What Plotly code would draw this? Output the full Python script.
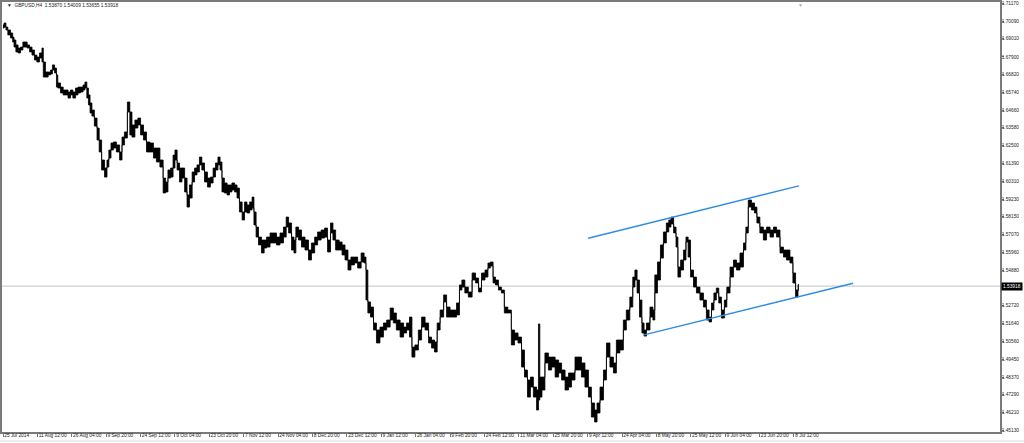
import plotly.graph_objects as go

bars = [0, 4, 7, 11, 17, 19, 22, 26, 30, 35, 39, 43, 47, 52, 56, 61, 65, 71, 74, 76,
        82, 86, 91, 93, 99, 100, 104, 110, 114, 119, 123, 128, 132, 138, 141, 147, 151, 154, 158, 160,
        164, 167, 173, 177, 181, 186, 192, 195, 199, 203, 208, 214, 220, 223, 229, 234, 238, 242, 249, 253,
        259, 264, 270, 277, 283, 288, 296, 300, 305, 309, 315, 318, 322, 326, 331, 335, 341, 344, 350, 354,
        359, 363, 368, 372, 378, 383, 389, 393, 398, 402, 406, 409, 415, 419, 424, 428, 434, 437, 443, 447,
        452, 456, 462, 465, 469, 473, 478, 484, 488, 493, 501, 506, 512, 519, 525, 529, 534, 540, 543, 547,
        553, 558, 566, 571, 577, 583, 588, 596, 601, 607, 612, 616, 622, 629, 633, 640, 644, 651, 657, 663,
        670, 674, 677, 681, 687, 692, 698, 705, 711, 717, 724, 729, 735, 743, 748, 754, 759, 763, 770, 776,
        782, 789, 795, 800, 806, 810, 817, 823, 828, 836, 841, 847, 852, 856, 863, 869, 877, 882, 888, 893,
        901, 904, 910, 914, 919, 925, 930, 936, 943, 949, 955, 962, 968, 973, 979, 984, 990, 996, 997, 1001,
        1005, 1012, 1018, 1024, 1031, 1037, 1042, 1050, 1055, 1061, 1068, 1074, 1079, 1087, 1092, 1098, 1104, 1107, 1115, 1120,
        1126, 1133, 1139, 1144, 1152, 1157, 1163, 1170, 1174, 1178, 1182, 1187, 1191, 1195, 1200, 1208, 1211, 1215, 1221, 1226,
        1232, 1237, 1241, 1245, 1251, 1254, 1258, 1264, 1269, 1273, 1277, 1282, 1288, 1293, 1301, 1306, 1312, 1316, 1321, 1325,
        1330, 1334, 1340, 1345, 1349, 1357, 1362, 1368, 1375, 1381, 1384, 1390, 1396, 1401, 1405, 1412, 1418, 1424, 1431, 1437,
        1442, 1450, 1455, 1461, 1468, 1472, 1478, 1481]

highs = [1.6985, 1.6997, 1.6972, 1.6954, 1.6936, 1.6911, 1.6893, 1.6863, 1.6844, 1.6850, 1.6881, 1.6881, 1.6863, 1.6850, 1.6832, 1.6801, 1.6789, 1.6814, 1.6844, 1.6759,
         1.6698, 1.6698, 1.6710, 1.6741, 1.6722, 1.6680, 1.6631, 1.6606, 1.6588, 1.6588, 1.6576, 1.6588, 1.6576, 1.6600, 1.6606, 1.6606, 1.6619, 1.6637, 1.6600, 1.6558,
         1.6509, 1.6466, 1.6417, 1.6356, 1.6283, 1.6161, 1.6112, 1.6161, 1.6222, 1.6265, 1.6271, 1.6253, 1.6210, 1.6301, 1.6332, 1.6515, 1.6454, 1.6375, 1.6405, 1.6417,
         1.6375, 1.6332, 1.6271, 1.6265, 1.6234, 1.6234, 1.6161, 1.6051, 1.6027, 1.6100, 1.6112, 1.6191, 1.6222, 1.6143, 1.6112, 1.6112, 1.6051, 1.5948, 1.6009, 1.6088,
         1.6112, 1.6131, 1.6179, 1.6143, 1.6088, 1.6051, 1.6057, 1.6112, 1.6143, 1.6179, 1.6149, 1.6051, 1.6021, 1.6009, 1.6009, 1.6021, 1.6009, 1.5990, 1.5905, 1.5844,
         1.5905, 1.5887, 1.5905, 1.5935, 1.5844, 1.5752, 1.5691, 1.5673, 1.5673, 1.5691, 1.5716, 1.5716, 1.5691, 1.5716, 1.5752, 1.5813, 1.5777, 1.5691, 1.5673, 1.5752,
         1.5734, 1.5691, 1.5673, 1.5612, 1.5655, 1.5691, 1.5722, 1.5734, 1.5746, 1.5673, 1.5777, 1.5734, 1.5673, 1.5661, 1.5643, 1.5612, 1.5551, 1.5569, 1.5569, 1.5539,
         1.5594, 1.5569, 1.5490, 1.5295, 1.5264, 1.5167, 1.5124, 1.5142, 1.5167, 1.5185, 1.5258, 1.5228, 1.5185, 1.5167, 1.5142, 1.5167, 1.5203, 1.5020, 1.5033, 1.5124,
         1.5203, 1.5167, 1.5081, 1.5063, 1.5051, 1.5167, 1.5246, 1.5338, 1.5264, 1.5246, 1.5246, 1.5289, 1.5399, 1.5429, 1.5386, 1.5356, 1.5472, 1.5441, 1.5380, 1.5472,
         1.5490, 1.5533, 1.5539, 1.5447, 1.5429, 1.5386, 1.5368, 1.5264, 1.5246, 1.5124, 1.5106, 1.5081, 1.5002, 1.4880, 1.4819, 1.4837, 1.4776, 1.4758, 1.5161, 1.4837,
         1.4837, 1.4984, 1.4959, 1.4959, 1.4941, 1.4923, 1.4880, 1.4837, 1.4862, 1.4862, 1.4959, 1.4959, 1.4923, 1.4880, 1.4776, 1.4679, 1.4636, 1.4679, 1.4776, 1.4880,
         1.5045, 1.4959, 1.4923, 1.5063, 1.5063, 1.5185, 1.5246, 1.5325, 1.5447, 1.5490, 1.5429, 1.5307, 1.5167, 1.5124, 1.5167, 1.5264, 1.5246, 1.5460, 1.5539, 1.5643,
         1.5722, 1.5777, 1.5795, 1.5813, 1.5752, 1.5691, 1.5508, 1.5551, 1.5612, 1.5691, 1.5673, 1.5490, 1.5447, 1.5386, 1.5350, 1.5307, 1.5246, 1.5203, 1.5289, 1.5350,
         1.5380, 1.5325, 1.5246, 1.5307, 1.5386, 1.5508, 1.5551, 1.5533, 1.5594, 1.5655, 1.5752, 1.5917, 1.5899, 1.5874, 1.5813, 1.5752, 1.5734, 1.5752, 1.5734, 1.5752,
         1.5734, 1.5630, 1.5612, 1.5612, 1.5569, 1.5472, 1.5368, 1.5401]

lows = [1.6966, 1.6972, 1.6954, 1.6924, 1.6905, 1.6881, 1.6850, 1.6820, 1.6814, 1.6832, 1.6850, 1.6850, 1.6844, 1.6820, 1.6801, 1.6771, 1.6759, 1.6783, 1.6759, 1.6667,
        1.6667, 1.6680, 1.6686, 1.6710, 1.6692, 1.6606, 1.6600, 1.6570, 1.6558, 1.6558, 1.6539, 1.6558, 1.6539, 1.6558, 1.6570, 1.6576, 1.6588, 1.6600, 1.6539, 1.6497,
        1.6448, 1.6429, 1.6368, 1.6283, 1.6210, 1.6100, 1.6057, 1.6118, 1.6173, 1.6222, 1.6234, 1.6210, 1.6161, 1.6253, 1.6295, 1.6454, 1.6314, 1.6301, 1.6356, 1.6375,
        1.6314, 1.6283, 1.6210, 1.6210, 1.6173, 1.6149, 1.6118, 1.5960, 1.5966, 1.6051, 1.6057, 1.6112, 1.6161, 1.6100, 1.6027, 1.6051, 1.5966, 1.5874, 1.5929, 1.6027,
        1.6070, 1.6088, 1.6131, 1.6100, 1.6027, 1.5996, 1.6021, 1.6057, 1.6100, 1.6131, 1.6100, 1.5966, 1.5960, 1.5948, 1.5966, 1.5978, 1.5966, 1.5929, 1.5844, 1.5795,
        1.5844, 1.5838, 1.5856, 1.5868, 1.5765, 1.5691, 1.5643, 1.5594, 1.5624, 1.5630, 1.5655, 1.5655, 1.5643, 1.5655, 1.5691, 1.5752, 1.5716, 1.5612, 1.5594, 1.5691,
        1.5673, 1.5630, 1.5612, 1.5551, 1.5594, 1.5643, 1.5673, 1.5685, 1.5691, 1.5600, 1.5716, 1.5673, 1.5612, 1.5612, 1.5582, 1.5551, 1.5490, 1.5521, 1.5533, 1.5502,
        1.5539, 1.5533, 1.5307, 1.5228, 1.5203, 1.5124, 1.5045, 1.5081, 1.5124, 1.5142, 1.5185, 1.5167, 1.5124, 1.5081, 1.5106, 1.5124, 1.5081, 1.4959, 1.5002, 1.5063,
        1.5142, 1.5124, 1.5045, 1.5014, 1.4990, 1.5124, 1.5203, 1.5295, 1.5203, 1.5203, 1.5203, 1.5216, 1.5368, 1.5386, 1.5350, 1.5325, 1.5429, 1.5411, 1.5356, 1.5429,
        1.5447, 1.5502, 1.5514, 1.5411, 1.5399, 1.5368, 1.5350, 1.5228, 1.5228, 1.5033, 1.5063, 1.5045, 1.4898, 1.4837, 1.4715, 1.4776, 1.4715, 1.4636, 1.4697, 1.4715,
        1.4758, 1.4923, 1.4880, 1.4898, 1.4837, 1.4862, 1.4819, 1.4758, 1.4776, 1.4819, 1.4880, 1.4880, 1.4837, 1.4776, 1.4715, 1.4593, 1.4563, 1.4618, 1.4697, 1.4819,
        1.4959, 1.4898, 1.4862, 1.4984, 1.5002, 1.5124, 1.5185, 1.5264, 1.5386, 1.5429, 1.5350, 1.5203, 1.5106, 1.5087, 1.5124, 1.5203, 1.5185, 1.5350, 1.5429, 1.5563,
        1.5655, 1.5722, 1.5752, 1.5771, 1.5716, 1.5630, 1.5447, 1.5490, 1.5551, 1.5661, 1.5569, 1.5447, 1.5386, 1.5350, 1.5307, 1.5264, 1.5185, 1.5173, 1.5246, 1.5307,
        1.5350, 1.5289, 1.5197, 1.5264, 1.5350, 1.5447, 1.5508, 1.5490, 1.5508, 1.5612, 1.5716, 1.5874, 1.5856, 1.5838, 1.5777, 1.5716, 1.5673, 1.5716, 1.5691, 1.5716,
        1.5691, 1.5594, 1.5569, 1.5551, 1.5533, 1.5411, 1.5325, 1.5366]

# x axis labels (one every 64 H4 bars)
x_tick_bars = [0, 64, 128, 192, 256, 320, 384, 448, 512, 576, 640, 704,
               768, 832, 896, 960, 1024, 1088, 1152, 1216, 1280, 1344, 1408, 1472]
x_tick_text = ["25 Jul 2014", "11 Aug 12:00", "26 Aug 04:00", "9 Sep 20:00", "24 Sep 12:00",
               "9 Oct 04:00", "23 Oct 20:00", "7 Nov 12:00", "24 Nov 04:00", "8 Dec 20:00",
               "23 Dec 12:00", "9 Jan 12:00", "26 Jan 04:00", "9 Feb 20:00", "24 Feb 12:00",
               "11 Mar 04:00", "25 Mar 20:00", "9 Apr 12:00", "24 Apr 04:00", "8 May 20:00",
               "25 May 12:00", "9 Jun 04:00", "23 Jun 20:00", "8 Jul 12:00"]

# y axis labels
y_tick_vals = [1.71170, 1.70090, 1.69010, 1.67900, 1.66820, 1.65740, 1.64660, 1.63580,
               1.62500, 1.61390, 1.60310, 1.59230, 1.58150, 1.57070, 1.55960, 1.54880,
               1.52720, 1.51640, 1.50560, 1.49450, 1.48370, 1.47290, 1.46210, 1.45130]
y_tick_text = ["%.5f" % v for v in y_tick_vals]

last_price = 1.53918
header = "GBPUSD,H4  1.53870 1.54009 1.53655 1.53918"

# channel (trend) lines
upper_x = [1089, 1481]
upper_y = [1.5684, 1.6003]
lower_x = [1193, 1582]
lower_y = [1.5094, 1.5409]

FONT = "Liberation Sans"
FS = 4.8

fig = go.Figure()

fig.add_trace(go.Scatter(x=bars, y=lows, mode="lines",
                         line=dict(color="black", width=0.8, shape="hvh"),
                         hoverinfo="skip"))
fig.add_trace(go.Scatter(x=bars, y=highs, mode="lines", fill="tonexty",
                         fillcolor="black",
                         line=dict(color="black", width=0.8, shape="hvh"),
                         hoverinfo="skip"))

for xs, ys in ((upper_x, upper_y), (lower_x, lower_y)):
    fig.add_trace(go.Scatter(x=xs, y=ys, mode="lines",
                             line=dict(color="#2f8ce6", width=1.4), hoverinfo="skip"))

# current price line
fig.add_shape(type="line", xref="paper", x0=0, x1=1, yref="y",
              y0=last_price, y1=last_price, layer="below",
              line=dict(color="#cfcfcf", width=1.4))

# current price label
fig.add_annotation(x=1, xref="paper", xanchor="left", xshift=1,
                   y=last_price, yref="y", yanchor="middle",
                   text="1.53918", showarrow=False,
                   bgcolor="black", borderpad=1,
                   font=dict(family=FONT, size=FS, color="white"))

# header text
fig.add_annotation(x=0, xref="paper", xanchor="left", xshift=3,
                   y=0.9907, yref="paper", yanchor="middle",
                   text="▼  " + header, showarrow=False,
                   font=dict(family=FONT, size=FS, color="#222"))

# shift marker at the top
fig.add_annotation(x=0.7996, xref="paper", xanchor="center",
                   y=0.9930, yref="paper", yanchor="middle",
                   text="▼", showarrow=False,
                   font=dict(family=FONT, size=5, color="#aaaaaa"))

# window bottom edge
fig.add_shape(type="line", xref="paper", x0=-0.01, x1=1.03, yref="paper",
              y0=-0.021, y1=-0.021, line=dict(color="#dddddd", width=1))

fig.update_layout(
    width=1024, height=443,
    margin=dict(l=2, r=24, t=2, b=11, autoexpand=False),
    paper_bgcolor="white", plot_bgcolor="white",
    showlegend=False,
    xaxis=dict(range=[-1.86, 1855.4], tickmode="array", automargin=False,
               tickvals=x_tick_bars, ticktext=x_tick_text,
               ticks="outside", ticklen=3, tickcolor="#777", tickwidth=1,
               tickangle=0, ticklabelposition="outside right",
               ticklabelstandoff=-3,
               tickfont=dict(family=FONT, size=FS, color="#222"),
               showgrid=False, zeroline=False,
               showline=True, linecolor="#7a7a7a", linewidth=1.5, mirror=True),
    yaxis=dict(range=[1.45019, 1.71249], side="right", tickmode="array",
               automargin=False,
               tickvals=y_tick_vals, ticktext=y_tick_text,
               ticks="outside", ticklen=2, tickcolor="#777", tickwidth=1,
               ticklabelstandoff=-3,
               tickfont=dict(family=FONT, size=FS, color="#222"),
               showgrid=False, zeroline=False,
               showline=True, linecolor="#7a7a7a", linewidth=1.5, mirror=True),
)

# remove the browser's default page margin so the figure sits at the window corner
fig.write_html("out.html",
               config={"displayModeBar": False},
               post_script="document.body.style.margin='0px';document.body.style.overflow='hidden';")
